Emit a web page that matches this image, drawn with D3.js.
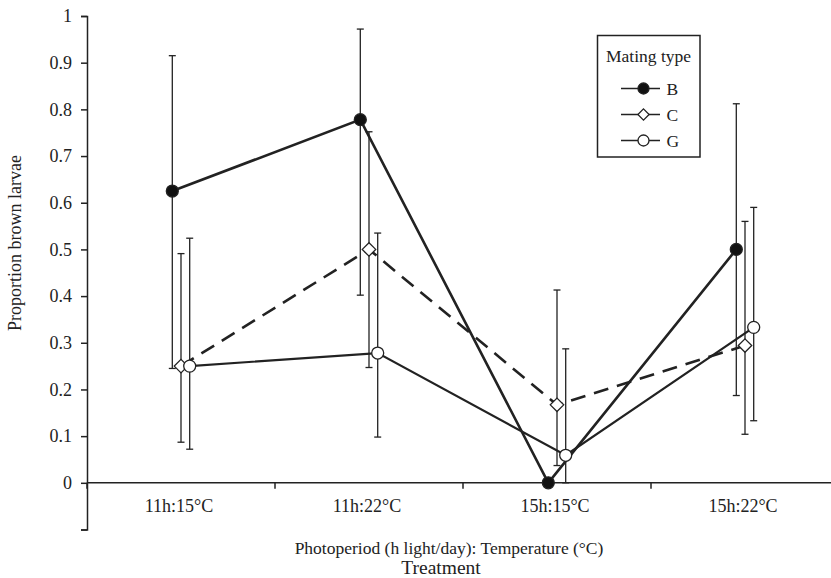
<!DOCTYPE html>
<html>
<head>
<meta charset="utf-8">
<script src="https://cdn.jsdelivr.net/npm/d3@7"></script>
<style>
  body { margin: 0; background: #fff; }
  svg { display: block; font-family: "Liberation Serif", "Times New Roman", serif; }
</style>
</head>
<body>
<svg id="chart" width="831" height="578"></svg>
<script>
// data
const treatments = ["11h:15°C", "11h:22°C", "15h:15°C", "15h:22°C"];
const matingTypes = ["B", "C", "G"];
const meanB = [0.625, 0.778, 0, 0.5];
const meanC = [0.25, 0.5, 0.167, 0.294];
const meanG = [0.25, 0.278, 0.059, 0.333];
const lowB = [0.245, 0.402, 0, 0.187];
const highB = [0.915, 0.972, 0, 0.812];
const lowC = [0.087, 0.247, 0.037, 0.104];
const highC = [0.491, 0.752, 0.413, 0.560];
const lowG = [0.072, 0.098, 0, 0.133];
const highG = [0.524, 0.535, 0.287, 0.590];
const yTicks = [-0.1, 0, 0.1, 0.2, 0.3, 0.4, 0.5, 0.6, 0.7, 0.8, 0.9, 1];

const series = [
  { name: "B", mean: meanB, low: lowB, high: highB, offset: -8.7, shape: "circle", fill: "#111", width: 2.6, dash: null },
  { name: "C", mean: meanC, low: lowC, high: highC, offset: 0, shape: "diamond", fill: "#fff", width: 2.6, dash: "15,9" },
  { name: "G", mean: meanG, low: lowG, high: highG, offset: 8.7, shape: "circle", fill: "#fff", width: 2.2, dash: null }
];

const ink = "#222";
const svg = d3.select("#chart");

const x = d3.scaleBand().domain(treatments).range([87, 839]);
const y = d3.scaleLinear().domain([-0.1, 1]).range([529.5, 16]);
const cx = (i, s) => x(treatments[i]) + x.bandwidth() / 2 + s.offset;

// y axis
const yAxis = svg.append("g")
  .attr("transform", "translate(87,0)")
  .call(d3.axisLeft(y).tickValues(yTicks).tickSize(6).tickPadding(9)
    .tickFormat(d => d < 0 ? "" : d3.format("~g")(+d.toFixed(1))));
yAxis.select(".domain").attr("stroke", ink).attr("stroke-width", 1.5);
yAxis.selectAll(".tick line").attr("stroke", ink).attr("stroke-width", 1.5);
yAxis.selectAll(".tick text").attr("font-size", 18).attr("fill", ink)
  .attr("font-family", "Liberation Serif");

// x axis at y = 0, ticks between categories
const xAxisG = svg.append("g").attr("transform", `translate(0,${y(0)})`);
xAxisG.append("line").attr("x1", 87).attr("x2", 839)
  .attr("stroke", ink).attr("stroke-width", 1.5);
treatments.forEach((t, i) => {
  const bx = x(t);
  xAxisG.append("line").attr("x1", bx).attr("x2", bx).attr("y1", 0).attr("y2", 6)
    .attr("stroke", ink).attr("stroke-width", 1.5);
  xAxisG.append("text")
    .attr("x", bx + x.bandwidth() / 2 - 2).attr("y", 29)
    .attr("text-anchor", "middle").attr("font-size", 18).attr("fill", ink)
    .text(t);
});

// axis titles
svg.append("text").attr("x", 449).attr("y", 554).attr("text-anchor", "middle")
  .attr("font-size", 17.5).attr("fill", ink).text("Photoperiod (h light/day): Temperature (°C)");
svg.append("text").attr("x", 441).attr("y", 574).attr("text-anchor", "middle")
  .attr("font-size", 19.5).attr("fill", ink).text("Treatment");
svg.append("text").attr("transform", "translate(21,243) rotate(-90)")
  .attr("text-anchor", "middle").attr("font-size", 18).attr("fill", ink)
  .text("Proportion brown larvae");

// error bars
series.forEach(s => {
  const g = svg.append("g").attr("stroke", ink).attr("stroke-width", 1.3);
  s.mean.forEach((m, i) => {
    if (s.low[i] === s.high[i]) return;
    const px = cx(i, s);
    g.append("line").attr("x1", px).attr("x2", px).attr("y1", y(s.low[i])).attr("y2", y(s.high[i]));
    [s.low[i], s.high[i]].forEach(v => {
      g.append("line").attr("x1", px - 3.5).attr("x2", px + 3.5).attr("y1", y(v)).attr("y2", y(v));
    });
  });
});

// lines
const line = d3.line().x(d => d[0]).y(d => d[1]);
series.forEach(s => {
  svg.append("path")
    .attr("d", line(s.mean.map((m, i) => [cx(i, s), y(m)])))
    .attr("fill", "none").attr("stroke", ink).attr("stroke-width", s.width)
    .attr("stroke-dasharray", s.dash);
});

// markers
const drawMarker = (g, s, px, py, r) => {
  if (s.shape === "circle") {
    g.append("circle").attr("cx", px).attr("cy", py).attr("r", r)
      .attr("fill", s.fill).attr("stroke", ink).attr("stroke-width", 1.3);
  } else {
    g.append("path")
      .attr("d", d3.symbol().type(d3.symbolDiamond2).size(r * r * 3.2)())
      .attr("transform", `translate(${px},${py})`)
      .attr("fill", s.fill).attr("stroke", ink).attr("stroke-width", 1.3);
  }
};
series.forEach(s => {
  const g = svg.append("g");
  s.mean.forEach((m, i) => drawMarker(g, s, cx(i, s), y(m), 6));
});

// legend
const legend = svg.append("g");
legend.append("rect").attr("x", 597.5).attr("y", 35.5).attr("width", 102.5).attr("height", 121.5)
  .attr("fill", "#fff").attr("stroke", ink).attr("stroke-width", 1.5);
legend.append("text").attr("x", 648.5).attr("y", 62).attr("text-anchor", "middle")
  .attr("font-size", 17.5).attr("fill", ink).text("Mating type");
series.forEach((s, k) => {
  const ly = 88.5 + k * 26;
  legend.append("line").attr("x1", 621).attr("x2", 660).attr("y1", ly).attr("y2", ly)
    .attr("stroke", ink).attr("stroke-width", 1.3);
  drawMarker(legend, s, 643.5, ly, s.shape === "circle" ? 5.5 : 5);
  legend.append("text").attr("x", 666.5).attr("y", ly + 6)
    .attr("font-size", 17.5).attr("fill", ink).text(matingTypes[k]);
});
</script>
</body>
</html>
